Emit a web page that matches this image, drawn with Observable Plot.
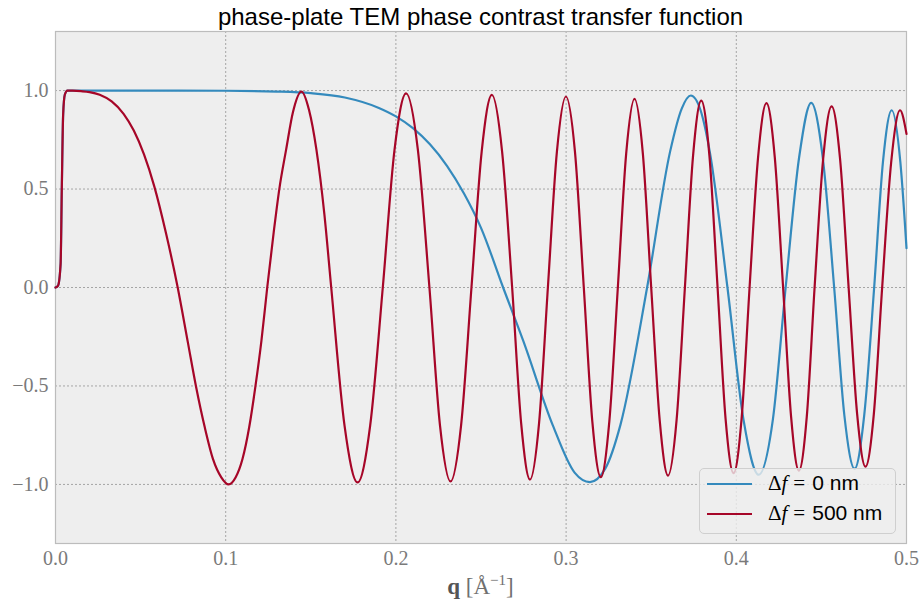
<!DOCTYPE html>
<html>
<head>
<meta charset="utf-8">
<script src="https://cdn.jsdelivr.net/npm/d3@7"></script>
<script src="https://cdn.jsdelivr.net/npm/@observablehq/plot@0.6"></script>
<style>
  body { margin: 0; background: #ffffff; }
  #wrap { position: relative; width: 920px; height: 603px; overflow: hidden; }
  #title { position: absolute; left: 0; width: 961px; top: 3px; text-align: center;
           font-family: "Liberation Sans", sans-serif; font-size: 24px; color: #000; }
  #plot { position: absolute; left: 0; top: 0; }
  #xlabel { position: absolute; left: 0; width: 961px; top: 572px; text-align: center;
            font-family: "Liberation Serif", serif; font-size: 23px; color: #707070; }
  #legend { position: absolute; left: 699px; top: 468px; width: 197px; height: 66px; box-sizing: border-box;
            background: rgba(238,238,238,0.8); border: 1px solid #cfcfcf; border-radius: 5px; }
  .row { position: absolute; left: 0; height: 30px; width: 100%; }
  .row svg { position: absolute; left: 7px; top: 0; }
  .row .lab { position: absolute; left: 68px; top: 1px; font-size: 21px; color: #000; white-space: nowrap;
              font-family: "Liberation Sans", sans-serif; }
  .m { font-family: "Liberation Serif", serif; }
  .eq { margin: 0 7px 0 6px; }
</style>
</head>
<body>
<div id="wrap">
  <div id="title">phase-plate TEM phase contrast transfer function</div>
  <div id="plot"></div>
  <div id="xlabel"><b style="color:#555">q</b> [Å<sup style="font-size:15px">−1</sup>]</div>
  <div id="legend">
    <div class="row" style="top:1px">
      <svg width="50" height="30"><line x1="0" x2="45" y1="14" y2="14" stroke="#348ABD" stroke-width="2.2"/></svg>
      <span class="lab"><span class="m">Δ<i>f</i><span class="eq">=</span></span>0 nm</span>
    </div>
    <div class="row" style="top:31px">
      <svg width="50" height="30"><line x1="0" x2="45" y1="14" y2="14" stroke="#A60628" stroke-width="2.2"/></svg>
      <span class="lab"><span class="m">Δ<i>f</i><span class="eq">=</span></span>500 nm</span>
    </div>
  </div>
</div>
<script>
// Tick values
const xTicks = [0, 0.1, 0.2, 0.3, 0.4, 0.5];
const yTicks = [-1, -0.5, 0, 0.5, 1];

// Series names
const seriesNames = ["Δf = 0 nm", "Δf = 500 nm"];

// Δf = 0 nm : [q (1/Å), CTF]
const blue0 = [
  [0,0],[0.0015,0.01],[0.003,0.12],[0.0037,0.5],[0.0045,0.88],[0.0055,0.98],[0.007,1.0],
  [0.05,1.0],[0.1,0.999],[0.13,0.995],[0.15,0.987],[0.17,0.965],[0.19,0.912],[0.2,0.869],
  [0.21,0.809],[0.22,0.727],[0.23,0.618],[0.24,0.477],[0.25,0.303],[0.263,0.0],[0.275,-0.275],
  [0.2922,-0.70],[0.305,-0.94],[0.314,-0.988],[0.323,-0.92],[0.332,-0.695],[0.3476,0],
  [0.3611,0.69],[0.368,0.91],[0.3733,0.975],[0.379,0.90],[0.3845,0.685],[0.3948,0],
  [0.4043,-0.675],[0.4132,-0.951],[0.4215,-0.67],[0.429,0],
  [0.4369,0.66],[0.444,0.938],[0.4508,0.66],[0.4575,0],
  [0.4635,-0.65],[0.4695,-0.92],[0.4752,-0.645],[0.481,0],
  [0.4862,0.64],[0.4913,0.90],[0.4964,0.635],[0.5,0.2]
];

// Δf = 500 nm : [q (1/Å), CTF]
const red500 = [
  [0,0],[0.0015,0.01],[0.003,0.12],[0.0037,0.5],[0.0045,0.88],[0.0055,0.98],[0.007,1.0],
  [0.01,0.9995],[0.015,0.997],[0.02,0.9925],[0.026,0.979],[0.033,0.945],[0.04,0.882],[0.046,0.797],
  [0.052,0.676],[0.058,0.515],[0.065,0.273],[0.0718,0],
  [0.0778,-0.28],[0.0825,-0.5],[0.0877,-0.71],[0.0925,-0.87],[0.0975,-0.965],[0.1017,-1.0],
  [0.1058,-0.965],[0.1099,-0.87],[0.1138,-0.71],[0.1175,-0.5],[0.121,-0.27],[0.1244,0],
  [0.1282,0.28],[0.1315,0.5],[0.1355,0.70],[0.1395,0.89],[0.1445,0.995],[0.149,0.90],[0.1533,0.70],
  [0.158,0.37],[0.162,0],
  [0.1698,-0.70],[0.1775,-0.99],[0.1849,-0.70],[0.1923,0],
  [0.1992,0.70],[0.206,0.986],[0.2129,0.70],[0.2197,0],
  [0.2259,-0.70],[0.2321,-0.985],[0.2383,-0.70],[0.2444,0],
  [0.2504,0.69],[0.2564,0.978],[0.2624,0.69],[0.2683,0],
  [0.2736,-0.69],[0.2788,-0.975],[0.2841,-0.69],[0.2893,0],
  [0.2946,0.69],[0.2999,0.97],[0.3052,0.69],[0.3104,0],
  [0.3154,-0.68],[0.3204,-0.963],[0.3254,-0.68],[0.3304,0],
  [0.3353,0.68],[0.3402,0.958],[0.3451,0.68],[0.350,0],
  [0.355,-0.675],[0.3599,-0.955],[0.3649,-0.675],[0.3698,0],
  [0.3746,0.67],[0.3794,0.949],[0.3842,0.67],[0.389,0],
  [0.3937,-0.667],[0.3984,-0.943],[0.4031,-0.667],[0.4078,0],
  [0.4128,0.662],[0.4177,0.936],[0.4226,0.662],[0.4275,0],
  [0.4322,-0.657],[0.4368,-0.93],[0.4414,-0.657],[0.446,0],
  [0.451,0.65],[0.456,0.92],[0.461,0.65],[0.466,0],
  [0.471,-0.643],[0.4759,-0.91],[0.4808,-0.643],[0.4857,0],
  [0.491,0.636],[0.4962,0.90],[0.5,0.78]
];

const toRows = (arr, name) => arr.map(([q, v]) => ({q, v, series: name}));
const blueRows = toRows(blue0, seriesNames[0]);
const redRows = toRows(red500, seriesNames[1]);

const chart = Plot.plot({
  width: 920,
  height: 579,
  marginLeft: 55,
  marginRight: 14,
  marginTop: 31,
  marginBottom: 36,
  style: {
    background: "transparent",
    fontFamily: "'Liberation Serif', serif",
    fontSize: "20px",
    color: "#7a7a7a",
    overflow: "visible"
  },
  x: { domain: [0, 0.5], ticks: xTicks, tickFormat: d3.format(".1f"), tickSize: 0, tickPadding: 7, label: null },
  y: { domain: [-1.3, 1.3], ticks: yTicks, tickFormat: d3.format(".1f"), tickSize: 0, tickPadding: 7, label: null },
  marks: [
    Plot.frame({ fill: "#eeeeee", stroke: null }),
    Plot.ruleX(xTicks, { stroke: "#a5a5a5", strokeWidth: 1, strokeDasharray: "2,2", strokeOpacity: 1 }),
    Plot.ruleY(yTicks, { stroke: "#a5a5a5", strokeWidth: 1, strokeDasharray: "2,2", strokeOpacity: 1 }),
    Plot.frame({ stroke: "#bcbcbc", strokeWidth: 1.2 }),
    Plot.line(blueRows, { x: "q", y: "v", stroke: "#348ABD", strokeWidth: 2.2, curve: "monotone-x" }),
    Plot.line(redRows, { x: "q", y: "v", stroke: "#A60628", strokeWidth: 2.2, curve: "monotone-x" })
  ]
});
document.getElementById("plot").appendChild(chart);
</script>
</body>
</html>
